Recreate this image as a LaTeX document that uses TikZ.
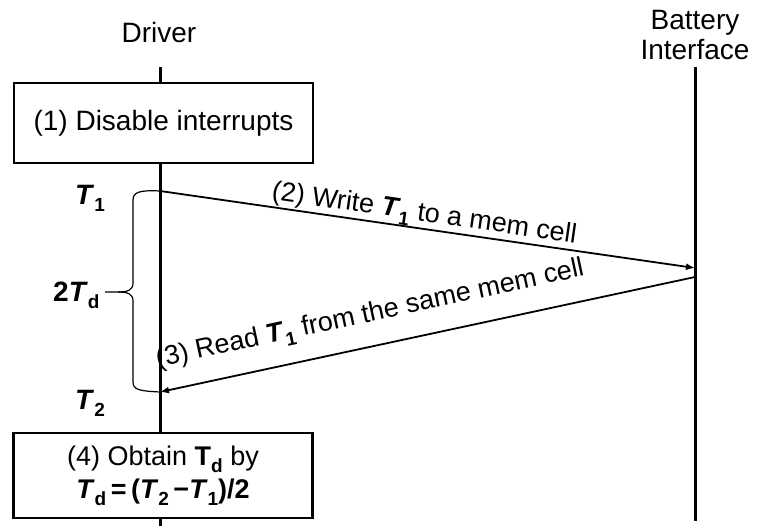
\documentclass[tikz,border=0pt]{standalone}
\usepackage{fontspec}
\setmainfont{Liberation Sans}
\usetikzlibrary{arrows.meta}
\newcommand{\sbs}[1]{\raisebox{-0.25em}{\fontsize{19}{19}\selectfont #1}}
\newcommand{\bT}[1]{\textbf{\textit{T}\sbs{#1}}}
\begin{document}
\begin{tikzpicture}[x=1pt,y=-1pt,
  every node/.style={font=\fontsize{28}{28}\selectfont},
  lbl/.style={font=\fontsize{27}{27}\selectfont},
  lifeline/.style={line width=3pt},
  stepbox/.style={draw, line width=2.5pt, fill=white, minimum width=299pt, minimum height=80pt, inner sep=0pt, align=center},
  msg/.style={line width=1.8pt, -{Latex[length=9pt,width=7pt]}},
  bracestyle/.style={line width=1.2pt}]
\useasboundingbox (0,0) rectangle (758,529);
\node (drv) at (159,32) {Driver};
\node[align=center] (bat) at (695,35) {Battery\\[2pt]Interface};
\coordinate (d0) at (160,67);
\coordinate (d1) at (160,526);
\coordinate (b0) at (695,67);
\coordinate (b1) at (695,521);
\draw[lifeline] (d0) -- (d1);
\draw[lifeline] (b0) -- (b1);
\node[stepbox] (box1) at (163.5,123) {(1) Disable interrupts};
\node[stepbox, lbl, minimum height=85pt] (box4) at (163,475.5) {(4) Obtain \textbf{T\sbs{d}} by\\[6pt]\bT{d}\,\textbf{=}\,\textbf{(}\bT{2}\,\textbf{−}\bT{1}\textbf{)/2}};
\coordinate (t1) at (160,191);
\coordinate (w) at (695,268);
\coordinate (r) at (695,277);
\coordinate (t2) at (160,392);
\draw[msg] (t1) -- node[lbl, sloped, above, pos=0.49, inner sep=0pt] (lw) {(2) Write \bT{1} to a mem cell} (w);
\draw[msg] (r) -- node[lbl, sloped, above=17pt, pos=0.595, inner sep=0pt] (lr) {(3) Read \bT{1} from the same mem cell} (t2);
\draw[bracestyle] (t1) .. controls (140,190) and (133,192) .. (133,200) -- (133,283)
  .. controls (133,290) and (128,292) .. (118,292) -- (105,292);
\draw[bracestyle] (118,292) .. controls (128,292) and (133,294) .. (133,301) -- (133,382)
  .. controls (133,390) and (140,391) .. (t2);
\node (lt1) at (90,198) {\bT{1}};
\node[anchor=east] (ltd) at (103,295) {\textbf{2\textit{T}\sbs{d}}};
\node (lt2) at (90,403) {\bT{2}};
\end{tikzpicture}
\end{document}
